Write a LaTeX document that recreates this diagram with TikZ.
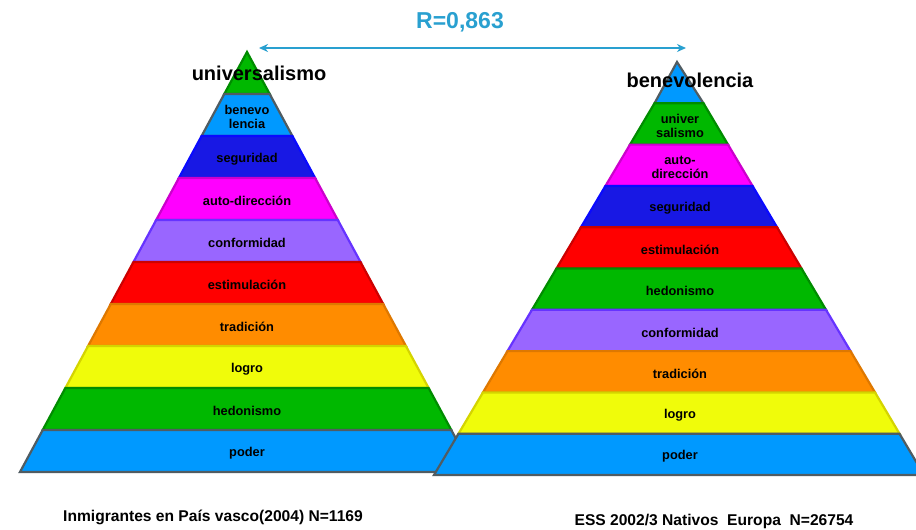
\documentclass[tikz,border=0pt]{standalone}
\usepackage{fontspec}
\setmainfont{Liberation Sans}
\usetikzlibrary{arrows.meta}
\definecolor{cgreen}{RGB}{0,184,0}
\definecolor{cgreenD}{RGB}{0,140,0}
\definecolor{cblue}{RGB}{0,153,255}
\definecolor{cgray}{RGB}{80,92,98}
\definecolor{cnavy}{RGB}{24,24,228}
\definecolor{cnavyD}{RGB}{10,10,255}
\definecolor{cmag}{RGB}{255,0,255}
\definecolor{cmagD}{RGB}{204,0,204}
\definecolor{cviol}{RGB}{153,102,255}
\definecolor{cviolD}{RGB}{102,51,255}
\definecolor{cred}{RGB}{255,0,0}
\definecolor{credD}{RGB}{204,0,0}
\definecolor{corange}{RGB}{255,140,0}
\definecolor{corangeD}{RGB}{222,120,0}
\definecolor{cyellow}{RGB}{240,252,10}
\definecolor{cyellowD}{RGB}{212,212,0}
\definecolor{carrow}{RGB}{41,160,208}
\tikzset{
  layershape/.style={line width=2.2pt, line join=miter},
  layerlbl/.style={font=\bfseries\fontsize{12.8}{13.5}\selectfont, align=center, inner sep=0pt, text=black},
  toptitle/.style={font=\bfseries\fontsize{20}{22}\selectfont, inner sep=0pt, text=black},
  caption/.style={font=\bfseries\fontsize{15.6}{17}\selectfont, inner sep=0pt, text=black},
  rlabel/.style={font=\bfseries\fontsize{23}{25}\selectfont, inner sep=0pt, text=carrow},
  link/.style={draw=carrow, line width=2.2pt, {Stealth[length=9pt,width=8pt]}-{Stealth[length=9pt,width=8pt]}}
}
\begin{document}
\begin{tikzpicture}[x=1pt,y=-1pt]
\clip (0,0) rectangle (916,530);
\fill[white] (0,0) rectangle (916,530);
% ---------- left pyramid ----------
\def\cx{247}\def\yt{52}\def\dy{42}\def\dw{22.7}
\filldraw[layershape, fill=cgreen, draw=cgreenD] (\cx,\yt) -- (\cx+\dw,\yt+\dy) -- (\cx-\dw,\yt+\dy) -- cycle;
\foreach \i/\fc/\dc/\lbl in {1/cblue/cgray/{benevo\\lencia},2/cnavy/cnavyD/{seguridad},3/cmag/cmagD/{auto-dirección},4/cviol/cviolD/{conformidad},5/cred/credD/{estimulación},6/corange/corangeD/{tradición},7/cyellow/cyellowD/{logro},8/cgreen/cgreenD/{hedonismo},9/cblue/cgray/{poder}}{
  \pgfmathsetmacro\ya{\yt+\i*\dy}
  \pgfmathsetmacro\yb{\yt+(\i+1)*\dy}
  \pgfmathsetmacro\wa{\i*\dw}
  \pgfmathsetmacro\wb{(\i+1)*\dw}
  \filldraw[layershape, fill=\fc, draw=\dc] (\cx-\wa,\ya) -- (\cx+\wa,\ya) -- (\cx+\wb,\yb) -- (\cx-\wb,\yb) -- cycle;
  \node[layerlbl] (L\i) at (\cx,{(\ya+\yb)/2+2}) {\lbl};
}
% ---------- right pyramid ----------
\def\cx{679}\def\yt{62}\def\dy{41.3}\def\dw{24.5}
\filldraw[layershape, fill=cblue, draw=cgray] (\cx-2,\yt) -- (\cx+\dw,\yt+\dy) -- (\cx-\dw,\yt+\dy) -- cycle;
\foreach \i/\fc/\dc/\lbl in {1/cgreen/cgreenD/{univer\\salismo},2/cmag/cmagD/{auto-\\dirección},3/cnavy/cnavyD/{seguridad},4/cred/credD/{estimulación},5/cgreen/cgreenD/{hedonismo},6/cviol/cviolD/{conformidad},7/corange/corangeD/{tradición},8/cyellow/cyellowD/{logro},9/cblue/cgray/{poder}}{
  \pgfmathsetmacro\ya{\yt+\i*\dy}
  \pgfmathsetmacro\yb{\yt+(\i+1)*\dy}
  \pgfmathsetmacro\wa{\i*\dw}
  \pgfmathsetmacro\wb{(\i+1)*\dw}
  \filldraw[layershape, fill=\fc, draw=\dc] (\cx-\wa,\ya) -- (\cx+\wa,\ya) -- (\cx+\wb,\yb) -- (\cx-\wb,\yb) -- cycle;
  \node[layerlbl] (R\i) at (\cx+1,{(\ya+\yb)/2+2}) {\lbl};
}
% ---------- titles ----------
\node[toptitle] (ltitle) at (259,73) {universalismo};
\node[toptitle] (rtitle) at (690,80) {benevolencia};
\node[rlabel] (rval) at (460,22) {R=0,863};
\coordinate (arrL) at (259,48);
\coordinate (arrR) at (686,48);
\draw[link] (arrL) -- (arrR);
\node[caption] (lcap) at (213,517) {Inmigrantes en País vasco(2004) N=1169};
\node[caption] (rcap) at (714,521) {ESS 2002/3 Nativos\ \ Europa\ \ N=26754};
\end{tikzpicture}
\end{document}
